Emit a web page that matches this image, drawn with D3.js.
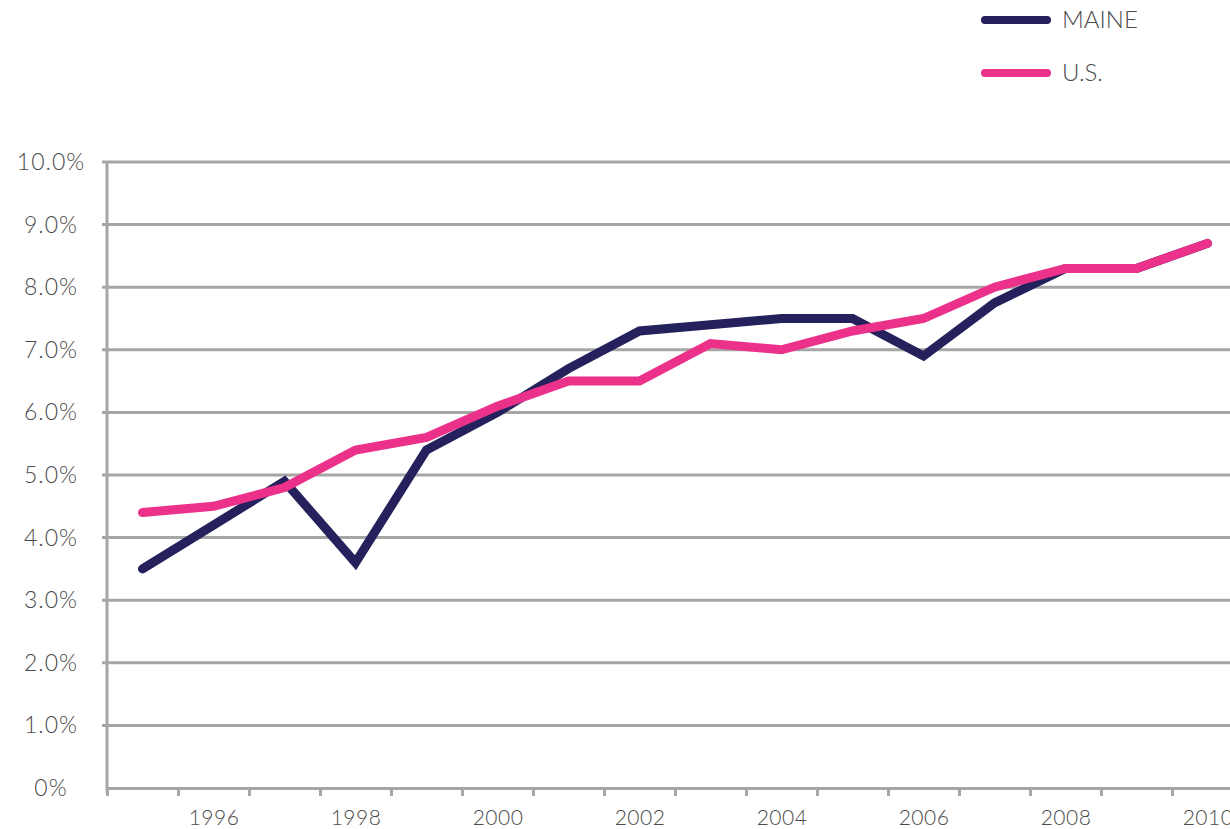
<!DOCTYPE html>
<html>
<head>
<meta charset="utf-8">
<script src="https://cdn.jsdelivr.net/npm/d3@7"></script>
<style>
  body { margin: 0; background: #fff; }
  svg text { font-family: Lato, "Open Sans", sans-serif; font-weight: 300; fill: #4a4a4a; }
</style>
</head>
<body>
<svg width="1230" height="829"></svg>
<script>
// Maine vs U.S. share, 1995-2010
var data = [
  {year: 1995, maine: 3.5, us: 4.4},
  {year: 1996, maine: 4.2, us: 4.5},
  {year: 1997, maine: 4.9, us: 4.8},
  {year: 1998, maine: 3.6, us: 5.4},
  {year: 1999, maine: 5.4, us: 5.6},
  {year: 2000, maine: 6.0, us: 6.1},
  {year: 2001, maine: 6.7, us: 6.5},
  {year: 2002, maine: 7.3, us: 6.5},
  {year: 2003, maine: 7.4, us: 7.1},
  {year: 2004, maine: 7.5, us: 7.0},
  {year: 2005, maine: 7.5, us: 7.3},
  {year: 2006, maine: 6.9, us: 7.5},
  {year: 2007, maine: 7.75, us: 8.0},
  {year: 2008, maine: 8.3, us: 8.3},
  {year: 2009, maine: 8.3, us: 8.3},
  {year: 2010, maine: 8.7, us: 8.7}
];

var series = [
  {key: "maine", label: "MAINE", color: "#24215c"},
  {key: "us", label: "U.S.", color: "#ec318b"}
];

var svg = d3.select("svg"),
    margin = {top: 162, left: 107, bottom: 41},
    width = 1136,
    height = +svg.attr("height") - margin.top - margin.bottom,
    g = svg.append("g").attr("transform", "translate(" + margin.left + "," + margin.top + ")");

var x = d3.scaleLinear().domain([1994.5, 2010.5]).range([0, width]);
var y = d3.scaleLinear().domain([0, 10]).range([height, 0]);

// gridlines
g.append("g")
  .selectAll("line")
  .data(d3.range(1, 11))
  .enter().append("line")
    .attr("x1", -5)
    .attr("x2", 1230 - margin.left)
    .attr("y1", function(d) { return y(d); })
    .attr("y2", function(d) { return y(d); })
    .attr("stroke", "#a6a6a6")
    .attr("stroke-width", 3);

// y axis line + labels
g.append("line")
  .attr("x1", 0).attr("x2", 0)
  .attr("y1", 0).attr("y2", height + 5)
  .attr("stroke", "#a6a6a6")
  .attr("stroke-width", 3);

g.append("g")
  .selectAll("text")
  .data(d3.range(0, 11))
  .enter().append("text")
    .attr("x", 51 - margin.left)
    .attr("y", function(d) { return y(d); })
    .attr("dy", "0.35em")
    .attr("text-anchor", "middle")
    .attr("font-size", 23)
    .attr("letter-spacing", 1)
    .text(function(d) { return d === 0 ? "0%" : d.toFixed(1) + "%"; });

// x axis: ticks between years, labels on even years
var xTicks = g.append("g")
  .attr("transform", "translate(0," + height + ")")
  .call(d3.axisBottom(x)
    .tickValues(d3.range(1994.5, 2011, 1))
    .tickSize(8)
    .tickFormat(""));
xTicks.select(".domain").attr("stroke", "#a6a6a6").attr("stroke-width", 3);
xTicks.selectAll(".tick line").attr("stroke", "#a6a6a6").attr("stroke-width", 3);

var xLabels = g.append("g")
  .attr("transform", "translate(0," + height + ")")
  .call(d3.axisBottom(x)
    .tickValues([1996, 1998, 2000, 2002, 2004, 2006, 2008, 2010])
    .tickSize(0)
    .tickFormat(d3.format("d")));
xLabels.select(".domain").remove();
xLabels.selectAll("text")
  .attr("y", 22)
  .attr("font-size", 21)
  .attr("letter-spacing", 0.5)
  .attr("font-family", null)
  .style("fill", "#4a4a4a");

// lines
var line = function(key) {
  return d3.line()
    .x(function(d) { return x(d.year); })
    .y(function(d) { return y(d[key]); });
};

series.forEach(function(s) {
  g.append("path")
    .datum(data)
    .attr("fill", "none")
    .attr("stroke", s.color)
    .attr("stroke-width", 9)
    .attr("stroke-linecap", "round")
    .attr("stroke-linejoin", "miter")
    .attr("d", line(s.key));
});

// legend
var legend = svg.append("g")
  .selectAll("g")
  .data(series)
  .enter().append("g")
    .attr("transform", function(d, i) { return "translate(985," + (20 + i * 53) + ")"; });

legend.append("line")
  .attr("x1", 0).attr("x2", 62)
  .attr("stroke", function(d) { return d.color; })
  .attr("stroke-width", 8)
  .attr("stroke-linecap", "round");

legend.append("text")
  .attr("x", 77)
  .attr("dy", "0.35em")
  .attr("font-size", 24)
  .text(function(d) { return d.label; });
</script>
</body>
</html>
